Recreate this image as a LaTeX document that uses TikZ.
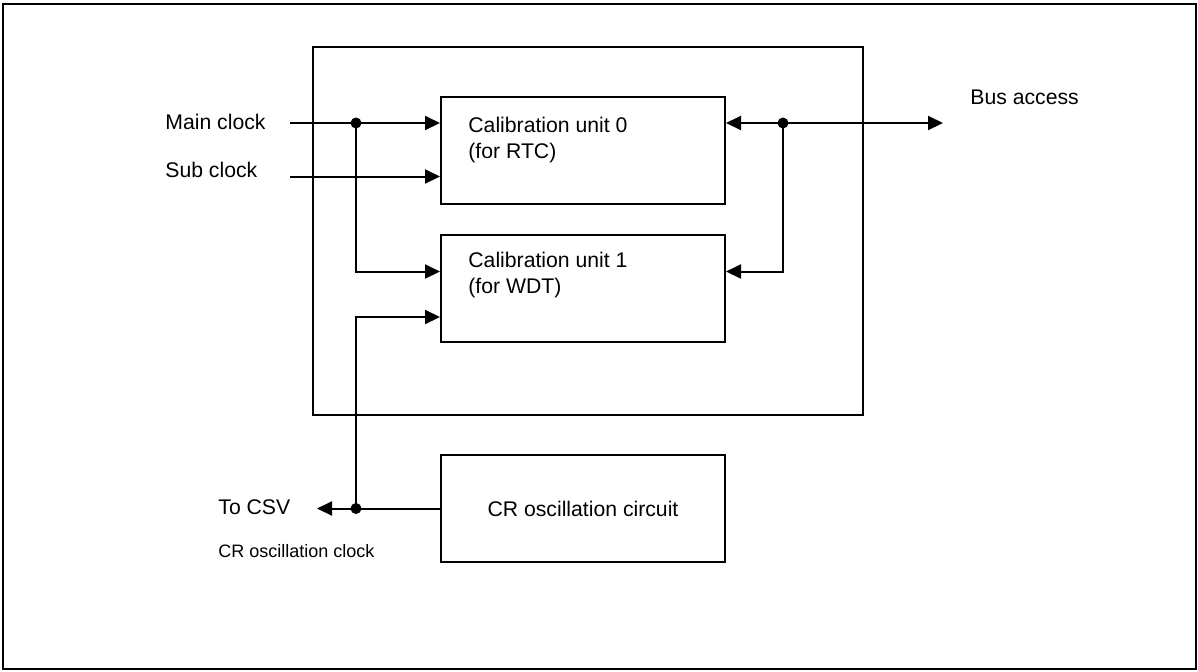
\documentclass[tikz,border=0pt]{standalone}
\usepackage{fontspec}
\setmainfont{Liberation Sans}
\usetikzlibrary{
  arrows.meta,  % Triangle 箭头
  calc,         % 坐标计算
  positioning   % 节点相对定位
}
\tikzset{
  frame/.style={
    draw=black,
    line width=1.2pt
  },
  unit box/.style={
    draw=black,
    line width=1pt,
    minimum width=142pt,
    minimum height=53.5pt,
    inner sep=0pt,
    font=\fontsize{10.6}{13}\selectfont
  },
  box text/.style={
    anchor=west,
    align=left,
    inner sep=0pt,
    font=\fontsize{10.6}{13}\selectfont
  },
  sig label/.style={
    anchor=west,
    inner sep=0pt,
    font=\fontsize{10.6}{13}\selectfont
  },
  small label/.style={
    anchor=west,
    inner sep=0pt,
    font=\fontsize{9}{11}\selectfont
  },
  signal/.style={
    line width=1pt
  },
  signal arrow/.style={
    -{Triangle[length=7.5pt,width=7pt]},
    line width=1pt
  },
  junction/.style={
    circle,
    fill=black,
    inner sep=0pt,
    minimum size=5.5pt
  }
}

\begin{document}
\begin{tikzpicture}[x=0.5pt, y=-0.5pt]
  \useasboundingbox (0,0) rectangle (1198,671);

  % ======================= 外框 =======================
  \draw[frame] (3,4) rectangle (1196,669);
  % 校准模块框
  \draw[frame] (313,47) rectangle (863,415);

  % ======================= 方框 =======================
  \node[unit box] (cal0) at (583,150.5) {};
  \node[box text] (cal0txt) at (468,140) {Calibration unit 0\\(for RTC)};
  \node[unit box] (cal1) at (583,288) {};
  \node[box text] (cal1txt) at (468,275) {Calibration unit 1\\(for WDT)};
  \node[unit box] (cr) at (583,508.5) {CR oscillation circuit};

  % ======================= 信号名 =======================
  \node[sig label] (mainclk) at (165,122) {Main clock};
  \node[sig label] (subclk) at (165,170) {Sub clock};
  \node[sig label] (bus) at (970,97) {Bus access};
  \node[sig label] (csv) at (218,507) {To CSV};
  \node[small label] (crclk) at (218,551) {CR oscillation clock};

  % 连线端点与分支点
  \coordinate (mainin) at (290,123);
  \coordinate (subin) at (290,176.5);
  \coordinate (mdot) at (356,123);
  \coordinate (bdot) at (783,123);
  \coordinate (busout) at (943,123);
  \coordinate (crdot) at (356,508.5);
  \coordinate (csvout) at (317,508.5);

  % ======================= 时钟输入 =======================
  \draw[signal] (mainin) -- (mdot);
  \draw[signal arrow] (mdot) -- (mdot -| cal0.west);
  \draw[signal arrow] (subin) -- (subin -| cal0.west);
  \draw[signal arrow] (mdot) |- ($(cal1.west)+(0,-16.5)$);

  % CR 振荡时钟
  \draw[signal arrow] (cr.west) -- (csvout);
  \draw[signal arrow] (crdot) |- ($(cal1.west)+(0,29)$);

  % ======================= 总线 =======================
  \draw[signal arrow] (bdot) -- (busout);
  \draw[signal arrow] (bdot) -- (bdot -| cal0.east);
  \draw[signal arrow] (bdot) |- ($(cal1.east)+(0,-16.5)$);

  % 分支点
  \node[junction] (mj) at (mdot) {};
  \node[junction] (bj) at (bdot) {};
  \node[junction] (cj) at (crdot) {};
\end{tikzpicture}
\end{document}
